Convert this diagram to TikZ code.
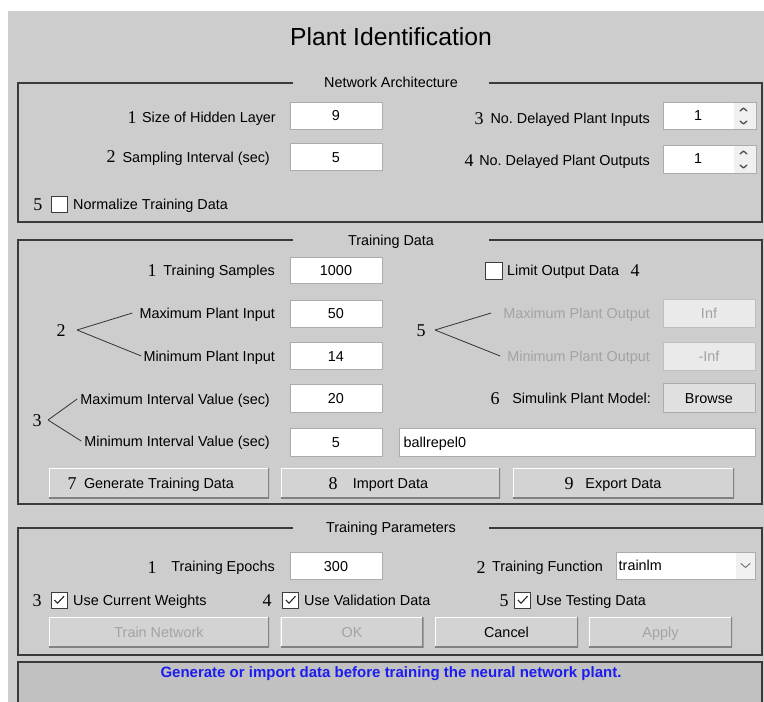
\documentclass[tikz,border=0pt]{standalone}
\usepackage{fontspec}
\setmainfont{Liberation Sans}
\newfontfamily\numfont{Liberation Serif}
\usetikzlibrary{calc}
\frenchspacing

\definecolor{winbg}{RGB}{205,205,205}
\definecolor{framec}{RGB}{58,58,58}
\definecolor{btnfill}{RGB}{211,211,211}
\definecolor{btnshadow}{RGB}{130,130,130}
\definecolor{statusbg}{RGB}{193,193,193}
\definecolor{fieldline}{RGB}{172,172,172}
\definecolor{chkline}{RGB}{60,60,60}
\definecolor{dimtext}{RGB}{163,163,163}
\definecolor{dimfill}{RGB}{234,234,234}
\definecolor{dimline}{RGB}{190,190,190}
\definecolor{stripc}{RGB}{240,240,240}
\definecolor{browsefill}{RGB}{224,224,224}
\definecolor{msgblue}{RGB}{28,28,238}

\tikzset{
  lbl/.style={inner sep=0pt, font=\fontsize{14.4}{17}\selectfont, text height=10.3pt, text depth=0pt},
  dimlbl/.style={lbl, text=dimtext},
  num/.style={inner sep=0pt, font=\numfont\fontsize{18}{20}\selectfont, text height=12.2pt, text depth=0pt},
  field/.style={lbl, draw=fieldline, fill=white, line width=1pt, minimum width=92pt, minimum height=27pt},
  dimfield/.style={field, fill=dimfill, draw=dimline, text=dimtext},
  chk/.style={draw=chkline, fill=white, line width=1pt, minimum size=16pt, inner sep=0pt},
  tick/.style={draw=black!85, line width=1.1pt},
  btn/.style={lbl, fill=btnfill, minimum height=30pt, path picture={
      \draw[white, line width=2.4pt] (path picture bounding box.south west) |- (path picture bounding box.north east);
      \draw[btnshadow, line width=2.4pt] (path picture bounding box.south west) -| (path picture bounding box.north east);}},
  dimbtn/.style={btn, text=dimtext},
  frame/.style={draw=framec, line width=1.4pt},
  bracket/.style={draw=black!80, line width=0.8pt},
  caret/.style={draw=black!70, line width=1.3pt, line cap=round, line join=round},
}

\begin{document}
\begin{tikzpicture}[x=1pt,y=-1pt]
\useasboundingbox (0,0) rectangle (764,702);
\fill[white] (0,0) rectangle (764,702);
\fill[winbg] (8,11) rectangle (764,702);

% window title
\node[inner sep=0pt, font=\fontsize{24.7}{28}\selectfont, text height=17.7pt, text depth=0pt] (title) at (391,37) {Plant Identification};

% ---------- Network Architecture ----------
\draw[frame] (293,83) -- (18,83) -- (18,222) -- (762,222) -- (762,83) -- (489,83);
\node[lbl] (archtitle) at (391,82.5) {Network Architecture};

\node[num] (a1) at (132,117) {1};
\node[lbl, anchor=east] (hidlbl) at (276,117) {Size of Hidden Layer};
\node[field] (hid) at (336,115.5) {9};

\node[num] (a2) at (111,156.5) {2};
\node[lbl, anchor=east] (samplbl) at (270,157) {Sampling Interval (sec)};
\node[field] (samp) at (336,157) {5};

\node[num] (a3) at (479,118) {3};
\node[lbl, anchor=east] (dpilbl) at (650,118) {No. Delayed Plant Inputs};
\node[field, minimum width=93pt] (dpi) at (709.5,115.5) {};
\fill[stripc] ($(dpi.north east)+(-23,1)$) rectangle ($(dpi.south east)+(-1,-1)$);
\node[lbl] (dpival) at (698,115) {1};
\draw[caret] ($(dpi.north east)+(-16.5,9.5)$) -- ++(3.5,-3) -- ++(3.5,3);
\draw[caret] ($(dpi.south east)+(-16.5,-8.5)$) -- ++(3.5,3) -- ++(3.5,-3);

\node[num] (a4) at (469,160) {4};
\node[lbl, anchor=east] (dpolbl) at (650,160) {No. Delayed Plant Outputs};
\node[field, minimum width=93pt, minimum height=28pt] (dpo) at (709.5,159) {};
\fill[stripc] ($(dpo.north east)+(-23,1)$) rectangle ($(dpo.south east)+(-1,-1)$);
\node[lbl] (dpoval) at (698,158) {1};
\draw[caret] ($(dpo.north east)+(-16.5,9.5)$) -- ++(3.5,-3) -- ++(3.5,3);
\draw[caret] ($(dpo.south east)+(-16.5,-8.5)$) -- ++(3.5,3) -- ++(3.5,-3);

\node[num] (a5) at (38,204) {5};
\node[chk] (norm) at (59,204) {};
\node[lbl, anchor=west] (normlbl) at (73,204) {Normalize Training Data};

% ---------- Training Data ----------
\draw[frame] (293,240) -- (18,240) -- (18,504) -- (762,504) -- (762,240) -- (489,240);
\node[lbl] (datatitle) at (391,240) {Training Data};

\node[num] (d1) at (152,270) {1};
\node[lbl, anchor=east] (nslbl) at (275,270) {Training Samples};
\node[field, minimum height=26pt] (ns) at (336,270) {1000};

\node[chk, minimum size=17pt] (limit) at (494,270.5) {};
\node[lbl, anchor=west] (limitlbl) at (507,270) {Limit Output Data};
\node[num] (d4) at (635,270) {4};

\node[num] (d2) at (61,330) {2};
\node[lbl, anchor=east] (maxinlbl) at (275,313) {Maximum Plant Input};
\node[lbl, anchor=east] (mininlbl) at (275,356) {Minimum Plant Input};
\draw[bracket] ([xshift=16pt]d2.center) -- ([xshift=-7pt]maxinlbl.west);
\draw[bracket] ([xshift=16pt]d2.center) -- ([xshift=-2pt]mininlbl.west);
\node[field] (maxin) at (336,313.5) {50};
\node[field] (minin) at (336,356) {14};

\node[num] (d5) at (421,330) {5};
\node[dimlbl, anchor=east] (maxoutlbl) at (650,313) {Maximum Plant Output};
\node[dimlbl, anchor=east] (minoutlbl) at (650,356) {Minimum Plant Output};
\draw[bracket] ([xshift=14pt]d5.center) -- ([xshift=-12pt]maxoutlbl.west);
\draw[bracket] ([xshift=14pt]d5.center) -- ([xshift=-7pt]minoutlbl.west);
\node[dimfield, minimum height=28pt] (maxout) at (709,313) {Inf};
\node[dimfield, minimum height=28pt] (minout) at (709,356) {-Inf};

\node[num] (d3) at (37,420) {3};
\node[lbl, anchor=east] (maxintlbl) at (270,399) {Maximum Interval Value (sec)};
\node[lbl, anchor=east] (minintlbl) at (270,441) {Minimum Interval Value (sec)};
\draw[bracket] ([xshift=11pt]d3.center) -- ([xshift=-3pt]maxintlbl.west);
\draw[bracket] ([xshift=11pt]d3.center) -- ([xshift=-3pt]minintlbl.west);
\node[field, minimum height=28pt] (maxint) at (336,398) {20};
\node[field, minimum height=28pt] (minint) at (336,442) {5};

\node[num] (d6) at (495,398) {6};
\node[lbl, anchor=east] (modellbl) at (651,398) {Simulink Plant Model:};
\node[lbl, draw=fieldline, fill=browsefill, line width=1pt, minimum width=92pt, minimum height=29pt] (browse) at (709,398) {Browse};
\node[field, minimum width=356pt, minimum height=28pt] (model) at (577,442) {};
\node[lbl, anchor=west] (modelname) at ([xshift=5pt]model.west) {ballrepel0};

\node[btn, minimum width=220pt] (gen) at (159,483) {Generate Training Data};
\node[num] (d7) at (72,483) {7};
\node[btn, minimum width=219pt] (imp) at (390.5,483) {Import Data};
\node[num] (d8) at (333,483) {8};
\node[btn, minimum width=221pt] (exp) at (623.5,483) {Export Data};
\node[num] (d9) at (569,483) {9};

% ---------- Training Parameters ----------
\draw[frame] (293,528) -- (18,528) -- (18,655) -- (762,655) -- (762,528) -- (489,528);
\node[lbl] (partitle) at (391,527) {Training Parameters};

\node[num] (p1) at (152,567) {1};
\node[lbl, anchor=east] (eplbl) at (275,566) {Training Epochs};
\node[field] (ep) at (336,566) {300};

\node[num] (p2) at (481,567) {2};
\node[lbl, anchor=east] (fnlbl) at (603,566) {Training Function};
\node[field, minimum width=139pt] (fn) at (685.5,565.5) {};
\fill[stripc] ($(fn.north east)+(-20,1)$) rectangle ($(fn.south east)+(-1,-1)$);
\node[lbl, anchor=west] (fnname) at ([xshift=3pt]fn.west) {trainlm};
\draw[caret, draw=black!55, line width=0.9pt] ($(fn.east)+(-14.5,-2)$) -- ++(4.5,4) -- ++(4.5,-4);

\node[num] (p3) at (37,600) {3};
\node[chk] (cw) at (59,600.5) {};
\draw[tick] ([xshift=-4.5pt,yshift=0.5pt]cw.center) -- ++(3,3.2) -- ++(6.5,-7);
\node[lbl, anchor=west] (cwlbl) at (73,600) {Use Current Weights};

\node[num] (p4) at (267,600) {4};
\node[chk] (vd) at (290.5,600.5) {};
\draw[tick] ([xshift=-4.5pt,yshift=0.5pt]vd.center) -- ++(3,3.2) -- ++(6.5,-7);
\node[lbl, anchor=west] (vdlbl) at (304,600) {Use Validation Data};

\node[num] (p5) at (504,600) {5};
\node[chk] (td) at (522.5,600.5) {};
\draw[tick] ([xshift=-4.5pt,yshift=0.5pt]td.center) -- ++(3,3.2) -- ++(6.5,-7);
\node[lbl, anchor=west] (tdlbl) at (536,600) {Use Testing Data};

\node[dimbtn, minimum width=220pt] (train) at (159,632) {Train Network};
\node[dimbtn, minimum width=143pt] (ok) at (352,632) {OK};
\node[btn, minimum width=143pt] (cancel) at (506.5,632) {Cancel};
\node[dimbtn, minimum width=143pt] (apply) at (660.5,632) {Apply};

% ---------- status line ----------
\fill[statusbg] (18,662) rectangle (762,702);
\draw[frame, line width=1.2pt] (18,703) -- (18,662) -- (762,662) -- (762,703);
\node[inner sep=0pt, font=\bfseries\fontsize{15}{18}\selectfont, text height=10.8pt, text depth=0pt, text=msgblue] (status) at (391,672.5) {Generate or import data before training the neural network plant.};
\end{tikzpicture}
\end{document}
